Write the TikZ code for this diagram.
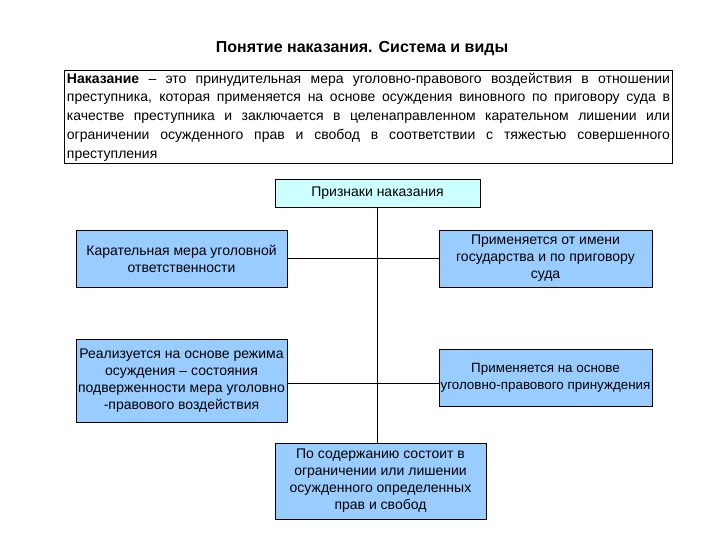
\documentclass[tikz,border=0pt]{standalone}
\usepackage{fontspec}
\setmainfont{Liberation Sans}
\definecolor{boxblue}{HTML}{99CCFF}
\definecolor{boxcyan}{HTML}{CCFFFF}
\begin{document}
\begin{tikzpicture}[x=1pt,y=-1pt,
  box/.style={draw=black,line width=0.9pt,fill=boxblue,inner sep=0pt,align=center,
    font=\fontsize{14}{17}\selectfont},
  conn/.style={draw=black,line width=0.9pt}]
\useasboundingbox (0,0) rectangle (720,540);
\fill[white] (0,0) rectangle (720,540);
\node[font=\fontsize{16}{18}\selectfont\bfseries] (title) at (362,49) {Понятие наказания. Система и виды};
\node[draw=black,line width=0.9pt,inner sep=0pt,minimum width=608pt,minimum height=93pt,anchor=north west,
  align=left,font=\fontsize{14}{18.8}\selectfont] (def) at (64,70) {%
  \makebox[603pt][s]{\textbf{Наказание} – это принудительная мера уголовно-правового воздействия в отношении}\\
  \makebox[603pt][s]{преступника, которая применяется на основе осуждения виновного по приговору суда в}\\
  \makebox[603pt][s]{качестве преступника и заключается в целенаправленном карательном лишении или}\\
  \makebox[603pt][s]{ограничении осужденного прав и свобод в соответствии с тяжестью совершенного}\\
  \makebox[603pt][l]{преступления}};
\node[box,fill=boxcyan,minimum width=205pt,minimum height=28pt] (pr) at (377.5,193) {Признаки наказания};
\node[box,minimum width=211pt,minimum height=57pt] (l1) at (181.5,258.5) {Карательная мера уголовной\\ответственности};
\node[box,minimum width=213pt,minimum height=57pt] (r1) at (545.5,258.5) {Применяется от имени\\государства и по приговору\\суда};
\node[box,minimum width=211pt,minimum height=83pt] (l2) at (181.5,380.5) {Реализуется на основе режима\\осуждения – состояния\\подверженности мера уголовно\\-правового воздействия};
\node[box,font=\fontsize{13.4}{17}\selectfont,minimum width=213pt,minimum height=57pt] (r2) at (545.5,377.5) {Применяется на основе\\уголовно-правового принуждения};
\node[box,minimum width=211pt,minimum height=76pt] (bt) at (380.5,481) {По содержанию состоит в\\ограничении или лишении\\осужденного определенных\\прав и свобод};
\coordinate (top) at (377,207);
\coordinate (j1) at (377,258.5);
\coordinate (j2) at (377,383);
\draw[conn] (pr.south -| top) -- (bt.north -| top);
\draw[conn] (l1.east) -- (r1.west);
\draw[conn] (l2.east |- j2) -- (r2.west |- j2);
\end{tikzpicture}
\end{document}
